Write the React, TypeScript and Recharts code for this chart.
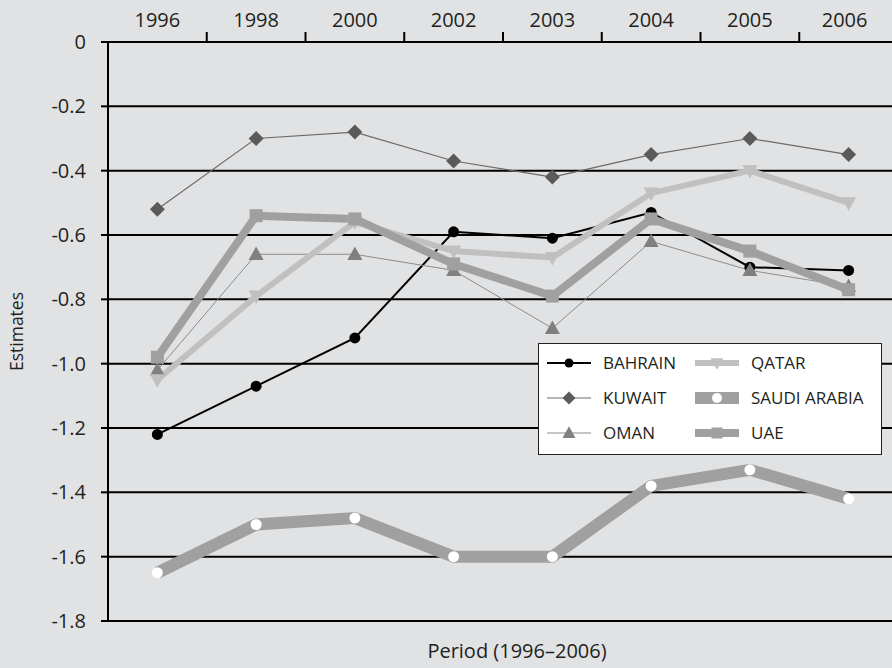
import React from "react"
import { LineChart, Line, XAxis, YAxis, CartesianGrid } from "recharts"

const YEARS = ["1996", "1998", "2000", "2002", "2003", "2004", "2005", "2006"]
const BAHRAIN = [-1.22, -1.07, -0.92, -0.59, -0.61, -0.53, -0.7, -0.71]
const KUWAIT = [-0.52, -0.3, -0.28, -0.37, -0.42, -0.35, -0.3, -0.35]
const OMAN = [-1.02, -0.66, -0.66, -0.71, -0.89, -0.62, -0.71, -0.76]
const QATAR = [-1.05, -0.79, -0.56, -0.65, -0.67, -0.47, -0.4, -0.5]
const SAUDI = [-1.65, -1.5, -1.48, -1.6, -1.6, -1.38, -1.33, -1.42]
const UAE = [-0.98, -0.54, -0.55, -0.69, -0.79, -0.55, -0.65, -0.77]
const Y_TICKS = [0, -0.2, -0.4, -0.6, -0.8, -1.0, -1.2, -1.4, -1.6, -1.8]

const W = 898
const H = 668
const Y_AXIS_W = 108
const BAND = (W - Y_AXIS_W) / YEARS.length
const BG = "#e1e2e4"
const INK = "#231f20"

type Shape = "circle" | "diamond" | "triangle" | "triDown" | "square"

const SERIES: { key: string; label: string; values: number[]; color: string; width: number; shape: Shape; size: number; dotFill: string }[] = [
  { key: "bahrain", label: "BAHRAIN", values: BAHRAIN, color: "#000000", width: 2, shape: "circle", size: 11, dotFill: "#000000" },
  { key: "kuwait", label: "KUWAIT", values: KUWAIT, color: "#6a6a6a", width: 1.2, shape: "diamond", size: 15, dotFill: "#5a5a5a" },
  { key: "oman", label: "OMAN", values: OMAN, color: "#8c8c8c", width: 1, shape: "triangle", size: 15, dotFill: "#808080" },
  { key: "qatar", label: "QATAR", values: QATAR, color: "#c0c0c0", width: 6, shape: "triDown", size: 15, dotFill: "#c0c0c0" },
  { key: "saudi", label: "SAUDI ARABIA", values: SAUDI, color: "#a0a0a0", width: 12, shape: "circle", size: 11, dotFill: "#ffffff" },
  { key: "uae", label: "UAE", values: UAE, color: "#a0a0a0", width: 8, shape: "square", size: 13, dotFill: "#a0a0a0" },
]

const data = YEARS.map((year, i) => {
  const row: Record<string, number | string> = { year, x: i + 0.5 }
  SERIES.forEach((s) => {
    row[s.key] = s.values[i]
  })
  return row
})

function Marker({ shape, cx, cy, size, fill }: { shape: Shape; cx: number; cy: number; size: number; fill: string }) {
  const h = size / 2
  if (shape === "circle") return <circle cx={cx} cy={cy} r={h} fill={fill} />
  if (shape === "square") return <rect x={cx - h} y={cy - h} width={size} height={size} fill={fill} />
  if (shape === "diamond")
    return <polygon points={`${cx},${cy - h} ${cx + h},${cy} ${cx},${cy + h} ${cx - h},${cy}`} fill={fill} />
  if (shape === "triangle")
    return <polygon points={`${cx},${cy - h * 1.05} ${cx + h},${cy + h * 0.75} ${cx - h},${cy + h * 0.75}`} fill={fill} />
  return <polygon points={`${cx},${cy + h * 1.05} ${cx + h},${cy - h * 0.75} ${cx - h},${cy - h * 0.75}`} fill={fill} />
}

const dotFor = (shape: Shape, size: number, fill: string) => (props: any) => {
  const { cx, cy, index } = props
  if (cx == null || cy == null) return <g key={index} />
  return <Marker key={index} shape={shape} cx={cx} cy={cy} size={size} fill={fill} />
}

function YearTick(props: any) {
  const { x, y, payload } = props
  const label = YEARS[payload.value - 1]
  return (
    <g>
      <line x1={x} x2={x} y1={y} y2={y - 10} stroke="#000" strokeWidth={2} />
      <text x={x - BAND / 2} y={y - 15} textAnchor="middle" fill={INK} fontSize={20} fontFamily="Open Sans">
        {label}
      </text>
    </g>
  )
}

function LegendIcon({ s }: { s: (typeof SERIES)[number] }) {
  return (
    <svg width={44} height={16} style={{ position: "absolute", left: 0, top: -8 }}>
      {s.key === "saudi" ? (
        <rect x={0} y={2} width={44} height={12} fill={s.color} />
      ) : (
        <line x1={0} x2={44} y1={8} y2={8} stroke={s.color} strokeWidth={s.width} />
      )}
      <Marker shape={s.shape} cx={22} cy={8} size={s.key === "saudi" ? 10 : s.size - 2} fill={s.dotFill} />
    </svg>
  )
}

function LegendBox() {
  return (
    <div
      style={{
        position: "absolute",
        left: 538,
        top: 343,
        width: 344,
        height: 112,
        background: "#fff",
        border: `1.5px solid ${INK}`,
        boxSizing: "border-box",
      }}
    >
      {SERIES.map((s, i) => {
        const col = Math.floor(i / 3)
        const row = i % 3
        return (
          <div key={s.key} style={{ position: "absolute", left: 8 + col * 148, top: 19 + row * 35 }}>
            <LegendIcon s={s} />
            <span
              style={{
                position: "absolute",
                left: 56,
                top: -12,
                fontSize: 17,
                lineHeight: "24px",
                color: INK,
                whiteSpace: "nowrap",
              }}
            >
              {s.label}
            </span>
          </div>
        )
      })}
    </div>
  )
}

export default function App() {
  return (
    <div
      style={{
        position: "absolute",
        left: 0,
        top: 0,
        width: 892,
        height: H,
        overflow: "hidden",
        background: BG,
        fontFamily: "Open Sans",
      }}
    >
      <LineChart width={W} height={H} data={data} margin={{ top: 0, right: 0, bottom: 47, left: 0 }}>
        <CartesianGrid vertical={false} stroke="#000" strokeWidth={2} />
        <XAxis
          type="number"
          dataKey="x"
          orientation="top"
          domain={[0, 8]}
          ticks={[1, 2, 3, 4, 5, 6, 7, 8]}
          height={42}
          tickSize={0}
          tickMargin={0}
          tickLine={false}
          axisLine={{ stroke: "#000", strokeWidth: 2 }}
          tick={<YearTick />}
        />
        <YAxis
          type="number"
          domain={[-1.8, 0]}
          ticks={Y_TICKS}
          width={Y_AXIS_W}
          tickSize={7}
          tickMargin={15}
          tickLine={{ stroke: "#000", strokeWidth: 2 }}
          axisLine={{ stroke: "#000", strokeWidth: 2 }}
          tick={{ fill: INK, fontSize: 20, fontFamily: "Open Sans" }}
          tickFormatter={(v: number) => (v === 0 ? "0" : v.toFixed(1))}
          label={{
            value: "Estimates",
            angle: -90,
            position: "insideLeft",
            offset: 17,
            style: { textAnchor: "middle", fill: INK, fontSize: 17.5, fontFamily: "Open Sans" },
          }}
        />
        {SERIES.map((s) => (
          <Line
            key={s.key}
            dataKey={s.key}
            name={s.label}
            type="linear"
            stroke={s.color}
            strokeWidth={s.width}
            strokeLinejoin="miter"
            dot={dotFor(s.shape, s.size, s.dotFill)}
            activeDot={false}
            isAnimationActive={false}
          />
        ))}
      </LineChart>
      <LegendBox />
      <div
        style={{
          position: "absolute",
          left: 407,
          top: 637,
          width: 220,
          textAlign: "center",
          fontSize: 20,
          color: INK,
          whiteSpace: "nowrap",
        }}
      >
        Period (1996–2006)
      </div>
    </div>
  )
}
